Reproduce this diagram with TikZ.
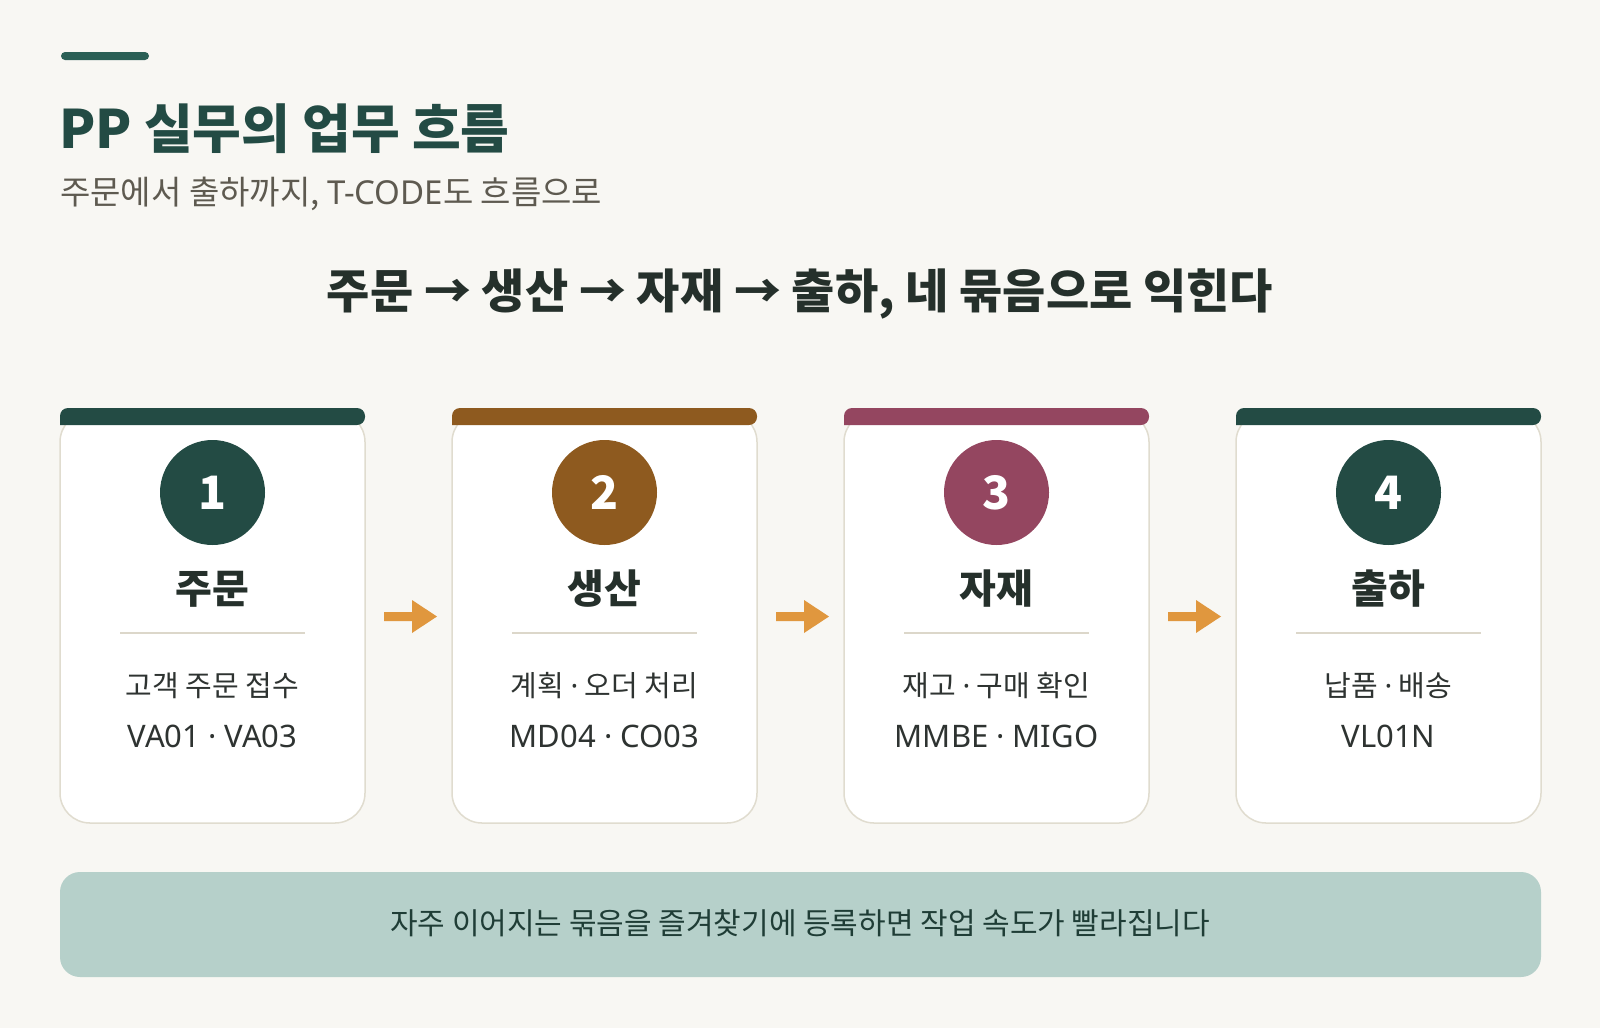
\documentclass[tikz,border=0pt]{standalone}
\usepackage{fontspec}
\setmainfont{Noto Sans CJK KR}
\newfontfamily\lat{Noto Sans}
\definecolor{bg}{HTML}{F8F7F3}
\definecolor{pine}{HTML}{234B44}
\definecolor{accentbar}{HTML}{2A5F55}
\definecolor{brownc}{HTML}{8E5A1F}
\definecolor{mauve}{HTML}{944660}
\definecolor{arrowc}{HTML}{E0973E}
\definecolor{cardborder}{HTML}{E0DCCF}
\definecolor{divider}{HTML}{DCD7CA}
\definecolor{banner}{HTML}{B6D0CA}
\definecolor{subgray}{HTML}{5E5A50}
\definecolor{headdark}{HTML}{25302B}
\definecolor{bodytext}{HTML}{2E3331}
\definecolor{bannertext}{HTML}{1F3D36}
\newcommand{\md}{\ {\lat ·}\ }
\tikzset{
  cardbody/.style={fill=white, draw=cardborder, line width=1.5pt, rounded corners=30pt},
  numcircle/.style={circle, minimum size=105pt, inner sep=0pt},
  numtext/.style={text=white, font=\fontsize{46}{50}\selectfont\bfseries},
  cardtitle/.style={anchor=base, inner sep=0pt, text=headdark, font=\fontsize{40}{46}\selectfont\bfseries},
  cardline/.style={anchor=base, inner sep=0pt, text=bodytext, font=\fontsize{29}{34}\selectfont},
  codeline/.style={anchor=base, inner sep=0pt, text=bodytext, font=\fontsize{31}{34}\selectfont\lat},
  flowarrow/.style={fill=arrowc}
}
\begin{document}
\begin{tikzpicture}[x=1pt,y=-1pt]
\useasboundingbox (0,0) rectangle (1600,1028);
\fill[bg] (0,0) rectangle (1600,1028);
% top accent
\fill[accentbar, rounded corners=4pt] (61,52) rectangle (149,60);
% titles
\node[anchor=base west, inner sep=0pt, text=pine, font=\fontsize{53}{60}\selectfont\bfseries] (title) at (59,148) {PP 실무의 업무 흐름};
\node[anchor=base west, inner sep=0pt, text=subgray, font=\fontsize{33}{38}\selectfont] (subtitle) at (60,204) {주문에서 출하까지, {\lat T-CODE}도 흐름으로};
\node[anchor=base, inner sep=0pt, text=headdark, font=\fontsize{47}{56}\selectfont\bfseries] (headline) at (800,308) {주문 → 생산 → 자재 → 출하, 네 묶음으로 익힌다};
% cards
\foreach \i/\x/\col/\num/\ttl/\la/\lb in {
  1/60/pine/1/주문/고객 주문 접수/VA01\md VA03,
  2/452/brownc/2/생산/계획\md 오더 처리/MD04\md CO03,
  3/844/mauve/3/자재/재고\md 구매 확인/MMBE\md MIGO,
  4/1236/pine/4/출하/납품\md 배송/VL01N}{
  \path[cardbody] (\x,412) rectangle (\x+305,823);
  \path[fill=\col, rounded corners=8pt] (\x,425) -- (\x,408) -- (\x+305,408) -- (\x+305,425) [sharp corners] -- cycle;
  \node[numcircle, fill=\col] (c\i) at (\x+152.5,492.5) {};
  \node[numtext, anchor=base, inner sep=0pt] (n\i) at (\x+152.5,509) {\num};
  \node[cardtitle] (t\i) at (\x+152.5,603) {\ttl};
  \draw[divider, line width=1.5pt] (\x+60,633) -- (\x+245,633);
  \node[cardline] (a\i) at (\x+152.5,696) {\la};
  \node[codeline] (b\i) at (\x+152.5,747) {\lb};
}
% arrows between cards
\foreach \x in {365,757,1149}{
  \fill[flowarrow] (\x+19,612) -- (\x+47,612) -- (\x+47,600) -- (\x+72,616.5) -- (\x+47,633) -- (\x+47,621) -- (\x+19,621) -- cycle;
}
% banner
\path[fill=banner, rounded corners=20pt] (60,872) rectangle (1541,977);
\node[anchor=base, inner sep=0pt, text=bannertext, font=\fontsize{30}{34}\selectfont] (tip) at (800,934) {자주 이어지는 묶음을 즐겨찾기에 등록하면 작업 속도가 빨라집니다};
\end{tikzpicture}
\end{document}
